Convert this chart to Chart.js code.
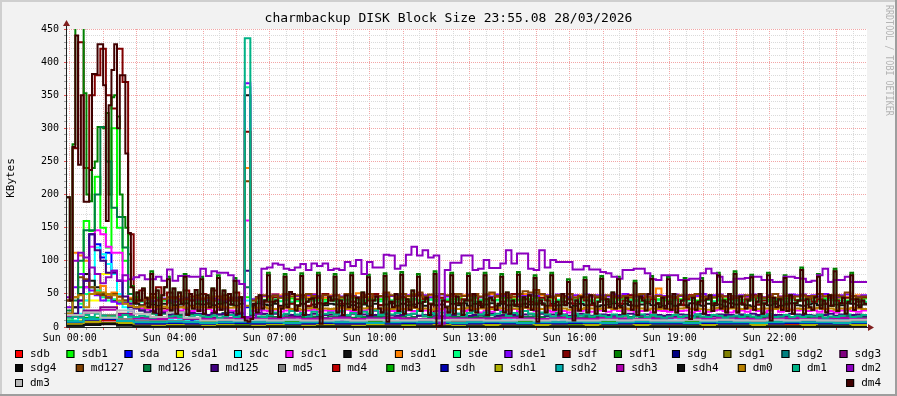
<!DOCTYPE html>
<html>
<head>
<meta charset="utf-8">
<title>charmbackup DISK Block Size</title>
<script src="https://cdn.jsdelivr.net/npm/chart.js@4.4.1/dist/chart.umd.min.js"></script>
<style>
    html, body { margin: 0; padding: 0; background: #f2f2f2; }
    canvas { display: block; }
</style>
</head>
<body>
<canvas id="graph" width="897" height="396"></canvas>
<script>
/**
 * charmbackup DISK Block Size - rrdtool style graph
 * time axis in minutes from Sun 00:00, graph starts 5 minutes earlier
 */

const T_START = -5;
const T_END = 1435;

// x labels (graph minutes -> label)
const X_LABEL_MINUTES = [0, 180, 360, 540, 720, 900, 1080, 1260];
const X_LABELS = ['Sun 00:00', 'Sun 04:00', 'Sun 07:00', 'Sun 10:00',
    'Sun 13:00', 'Sun 16:00', 'Sun 19:00', 'Sun 22:00'];
const Y_LABELS = [0, 50, 100, 150, 200, 250, 300, 350, 400, 450];

// 5 minute samples
const DM4 = [
    196, 40, 272, 440, 245, 350, 189, 189, 237, 382, 382, 427, 427, 365, 160, 335, 388, 427, 300, 380, 380, 262, 142, 60,
    36, 52, 40, 58, 44, 30, 80, 22, 55, 18, 48, 60, 72, 25, 58, 20, 52, 35, 76, 18, 50, 28, 56, 24,
    72, 20, 48, 30, 58, 22, 74, 26, 55, 18, 50, 34, 70, 20, 45, 15, 10, 8, 12, 35, 22, 48, 28, 40,
    78, 20, 38, 40, 15, 28, 76, 30, 53, 50, 25, 32, 77, 18, 38, 42, 43, 30, 78, 5, 35, 36, 45, 40,
    76, 22, 40, 18, 48, 30, 78, 26, 44, 20, 52, 36, 75, 18, 40, 46, 28, 22, 77, 8, 38, 30, 50, 24,
    79, 20, 42, 26, 55, 30, 76, 24, 38, 44, 18, 34, 80, 0, 2, 40, 30, 22, 78, 20, 46, 35, 18, 40,
    77, 25, 50, 22, 38, 30, 78, 18, 44, 40, 26, 35, 76, 22, 52, 20, 40, 32, 79, 15, 45, 30, 48, 26,
    74, 8, 40, 34, 22, 45, 78, 26, 38, 20, 50, 33, 68, 30, 10, 40, 25, 45, 71, 22, 48, 36, 20, 38,
    73, 24, 42, 30, 52, 28, 72, 30, 20, 44, 38, 26, 66, 18, 46, 40, 25, 50, 73, 22, 36, 30, 44, 28,
    72, 26, 50, 22, 34, 40, 70, 30, 12, 44, 26, 38, 70, 20, 42, 48, 24, 36, 78, 28, 40, 22, 50, 30,
    80, 22, 46, 34, 28, 40, 75, 26, 38, 50, 20, 35, 78, 10, 44, 30, 42, 26, 74, 24, 48, 20, 36, 40,
    86, 20, 42, 30, 26, 45, 76, 28, 40, 22, 48, 32, 84, 24, 36, 44, 20, 38, 78, 26, 42, 30, 40, 35
];
const SDF1 = [
    196, 40, 276, 460, 460, 460, 353, 200, 190, 240, 250, 302, 302, 300, 323, 200, 347, 350, 318, 200, 166, 150, 110, 62,
    36, 52, 40, 58, 44, 30, 84, 22, 55, 18, 48, 60, 76, 25, 58, 20, 52, 35, 80, 18, 50, 28, 56, 24,
    76, 20, 48, 30, 58, 22, 78, 26, 55, 18, 50, 34, 74, 20, 45, 15, 10, 8, 12, 35, 22, 48, 28, 40,
    82, 20, 38, 40, 15, 28, 80, 30, 53, 50, 25, 32, 81, 18, 38, 42, 43, 30, 82, 5, 35, 36, 45, 40,
    80, 22, 40, 18, 48, 30, 82, 26, 44, 20, 52, 36, 79, 18, 40, 46, 28, 22, 81, 8, 38, 30, 50, 24,
    83, 20, 42, 26, 55, 30, 80, 24, 38, 44, 18, 34, 84, 0, 2, 40, 30, 22, 82, 20, 46, 35, 18, 40,
    81, 25, 50, 22, 38, 30, 82, 18, 44, 40, 26, 35, 80, 22, 52, 20, 40, 32, 83, 15, 45, 30, 48, 26,
    78, 8, 40, 34, 22, 45, 82, 26, 38, 20, 50, 33, 72, 30, 10, 40, 25, 45, 75, 22, 48, 36, 20, 38,
    77, 24, 42, 30, 52, 28, 76, 30, 20, 44, 38, 26, 70, 18, 46, 40, 25, 50, 77, 22, 36, 30, 44, 28,
    76, 26, 50, 22, 34, 40, 74, 30, 12, 44, 26, 38, 74, 20, 42, 48, 24, 36, 82, 28, 40, 22, 50, 30,
    84, 22, 46, 34, 28, 40, 79, 26, 38, 50, 20, 35, 82, 10, 44, 30, 42, 26, 78, 24, 48, 20, 36, 40,
    90, 20, 42, 30, 26, 45, 80, 28, 40, 22, 48, 32, 88, 24, 36, 44, 20, 38, 82, 26, 42, 30, 40, 35
];

// 10 minute samples
const DM2 = [
    45, 100, 112, 105, 90, 80, 66, 75, 85, 70, 78, 72,
    75, 78, 72, 72, 76, 70, 87, 70, 77, 77, 76, 76,
    88, 77, 84, 82, 82, 78, 70, 65, 15, 12, 20, 88,
    90, 96, 94, 88, 86, 90, 95, 86, 96, 92, 96, 86,
    88, 86, 98, 92, 101, 80, 98, 90, 90, 109, 108, 88,
    93, 109, 121, 108, 116, 105, 108, 5, 86, 97, 97, 108,
    108, 86, 88, 101, 89, 89, 96, 116, 96, 111, 111, 88,
    86, 116, 90, 101, 98, 98, 98, 87, 87, 92, 87, 87,
    83, 81, 76, 73, 86, 86, 88, 88, 81, 72, 71, 78,
    78, 78, 71, 71, 73, 73, 81, 88, 81, 76, 68, 68,
    73, 73, 74, 76, 76, 71, 71, 68, 68, 76, 76, 74,
    73, 68, 70, 78, 88, 68, 71, 71, 76, 68, 68, 68
];
const MD127 = [
    40, 45, 75, 72, 60, 50, 48, 44, 50, 46, 40, 42,
    38, 40, 42, 44, 40, 42, 45, 43, 40, 42, 46, 44,
    42, 44, 40, 46, 42, 44, 40, 45, 220, 40, 44, 48,
    46, 48, 44, 50, 46, 48, 45, 50, 47, 44, 48, 46,
    48, 45, 50, 46, 44, 48, 50, 46, 47, 52, 48, 45,
    50, 47, 48, 52, 46, 49, 45, 50, 48, 46, 50, 47,
    48, 50, 46, 49, 52, 47, 50, 48, 46, 50, 54, 52,
    56, 50, 47, 45, 48, 46, 50, 44, 47, 45, 48, 46,
    45, 48, 46, 44, 47, 45, 48, 50, 46, 44, 47, 45,
    46, 44, 48, 45, 47, 50, 46, 44, 45, 48, 46, 47,
    44, 46, 48, 45, 47, 44, 46, 50, 45, 47, 44, 46,
    48, 45, 47, 50, 46, 44, 48, 46, 52, 47, 45, 46
];
const SDD1 = [
    30, 112, 108, 100, 60, 55, 62, 48, 52, 45, 40, 44,
    42, 40, 44, 46, 42, 40, 44, 42, 46, 43, 41, 45,
    44, 42, 46, 43, 45, 40, 44, 42, 240, 40, 43, 46,
    45, 50, 48, 44, 49, 46, 48, 45, 50, 47, 44, 48,
    48, 44, 49, 46, 51, 47, 45, 49, 46, 50, 47, 44,
    49, 46, 50, 47, 45, 48, 46, 44, 47, 49, 46, 48,
    47, 49, 45, 48, 50, 46, 49, 47, 45, 48, 50, 47,
    52, 48, 46, 44, 47, 45, 49, 46, 48, 44, 47, 45,
    44, 47, 45, 48, 46, 44, 47, 49, 45, 47, 58, 44,
    46, 44, 47, 45, 48, 46, 44, 47, 45, 48, 46, 44,
    45, 47, 44, 46, 48, 45, 47, 44, 46, 48, 45, 47,
    46, 44, 47, 45, 48, 46, 44, 47, 45, 46, 48, 45
];
const DM0 = [
    20, 45, 48, 30, 50, 52, 52, 50, 48, 40, 35, 32,
    30, 31, 29, 30, 30, 31, 29, 30, 30, 29, 31, 30,
    30, 29, 30, 31, 30, 29, 30, 30, 32, 28, 29, 30,
    28, 27, 28, 29, 27, 28, 26, 28, 29, 27, 28, 27,
    28, 29, 27, 28, 26, 28, 29, 27, 28, 28, 27, 29,
    27, 28, 29, 27, 28, 26, 28, 27, 29, 28, 27, 28,
    29, 27, 28, 28, 27, 29, 28, 26, 28, 27, 29, 28,
    28, 27, 29, 28, 27, 28, 26, 28, 27, 29, 28, 27,
    28, 29, 27, 28, 28, 27, 29, 28, 26, 28, 27, 28,
    27, 28, 28, 29, 27, 28, 27, 26, 28, 29, 27, 28,
    28, 27, 29, 28, 27, 28, 28, 27, 29, 28, 26, 28,
    27, 28, 28, 29, 27, 28, 26, 28, 27, 29, 28, 27
];
const DM1 = [
    14, 16, 14, 18, 15, 20, 17, 14, 16, 15, 18, 16,
    15, 17, 16, 14, 18, 15, 16, 17, 15, 14, 16, 18,
    16, 15, 17, 14, 16, 18, 15, 17, 436, 20, 16, 15,
    18, 22, 17, 20, 24, 19, 21, 16, 23, 18, 20, 22,
    19, 24, 18, 21, 17, 23, 20, 25, 18, 22, 19, 21,
    23, 18, 20, 24, 17, 21, 19, 22, 18, 25, 20, 17,
    21, 24, 19, 22, 18, 20, 23, 17, 21, 19, 24, 20,
    18, 22, 19, 16, 21, 18, 15, 20, 17, 19, 16, 18,
    17, 15, 19, 16, 18, 14, 17, 19, 15, 18, 16, 14,
    16, 18, 15, 17, 14, 19, 16, 15, 18, 17, 14, 16,
    17, 15, 18, 16, 14, 17, 19, 15, 16, 18, 15, 17,
    15, 17, 16, 18, 14, 16, 15, 17, 19, 15, 16, 18
];
const SDC1 = [
    20, 30, 40, 60, 121, 146, 140, 121, 112, 112, 70, 36,
    30, 28, 26, 25, 27, 24, 26, 28, 25, 27, 24, 26,
    25, 27, 24, 26, 28, 25, 24, 22, 161, 24, 26, 25,
    24, 26, 23, 25, 27, 24, 22, 25, 26, 23, 25, 24,
    25, 23, 26, 24, 22, 25, 27, 24, 23, 26, 24, 25,
    23, 25, 24, 27, 25, 22, 24, 26, 23, 25, 27, 24,
    26, 24, 22, 25, 23, 26, 24, 25, 27, 23, 24, 26,
    24, 27, 25, 23, 26, 24, 22, 25, 24, 26, 23, 25,
    25, 23, 26, 24, 27, 25, 23, 24, 26, 22, 25, 24,
    23, 26, 24, 25, 22, 24, 27, 23, 25, 26, 24, 22,
    24, 25, 23, 26, 24, 22, 25, 27, 23, 24, 26, 25,
    26, 24, 25, 23, 27, 24, 22, 25, 26, 24, 23, 25
];
const MD125 = [
    15, 20, 40, 70, 140, 116, 100, 82, 82, 70, 46, 30,
    28, 25, 22, 24, 20, 22, 18, 20, 22, 19, 21, 20,
    20, 18, 21, 19, 20, 22, 18, 20, 85, 19, 21, 20,
    18, 20, 17, 19, 18, 16, 19, 18, 20, 17, 18, 19,
    19, 17, 18, 20, 18, 19, 17, 18, 19, 20, 18, 17,
    18, 19, 20, 17, 18, 19, 18, 16, 19, 18, 20, 18,
    17, 18, 19, 18, 20, 17, 18, 19, 18, 17, 19, 20,
    18, 20, 17, 19, 18, 19, 17, 18, 20, 18, 17, 19,
    19, 18, 17, 18, 19, 20, 18, 17, 19, 18, 18, 17,
    18, 17, 19, 18, 17, 19, 20, 18, 17, 19, 18, 18,
    17, 19, 18, 20, 18, 17, 19, 18, 18, 17, 20, 19,
    18, 18, 17, 19, 18, 20, 17, 19, 18, 18, 19, 17
];
const SDE1 = [
    30, 60, 80, 70, 55, 48, 40, 45, 38, 35, 36, 34,
    38, 40, 42, 39, 41, 43, 40, 38, 42, 44, 40, 41,
    42, 40, 43, 41, 39, 42, 44, 40, 368, 42, 45, 47,
    47, 49, 46, 48, 50, 47, 45, 48, 49, 46, 48, 47,
    48, 46, 49, 47, 45, 48, 50, 47, 46, 49, 47, 48,
    46, 48, 47, 50, 48, 45, 47, 49, 46, 48, 50, 47,
    49, 47, 45, 48, 46, 49, 47, 48, 50, 46, 47, 49,
    47, 50, 48, 46, 49, 47, 45, 48, 47, 49, 46, 48,
    48, 46, 49, 47, 50, 48, 46, 47, 49, 45, 48, 47,
    46, 49, 47, 48, 45, 47, 50, 46, 48, 49, 47, 45,
    47, 48, 46, 49, 47, 45, 48, 50, 46, 47, 49, 48,
    49, 47, 48, 46, 50, 47, 45, 48, 49, 47, 46, 48
];
const SDE = [
    10, 20, 35, 50, 60, 55, 45, 40, 42, 38, 40, 39,
    40, 38, 41, 39, 42, 40, 38, 41, 39, 40, 42, 38,
    39, 41, 40, 38, 42, 39, 40, 41, 362, 40, 38, 41,
    40, 42, 39, 41, 38, 40, 42, 39, 41, 40, 38, 41,
    39, 41, 40, 38, 42, 39, 41, 40, 39, 42, 40, 38,
    41, 39, 42, 40, 38, 41, 39, 40, 42, 38, 41, 40,
    40, 38, 41, 39, 42, 40, 38, 41, 39, 40, 42, 39,
    39, 42, 40, 38, 41, 39, 42, 40, 38, 41, 39, 40,
    41, 40, 38, 42, 39, 41, 40, 38, 41, 39, 40, 42,
    38, 41, 39, 40, 42, 38, 40, 41, 39, 42, 38, 40,
    40, 39, 42, 41, 38, 40, 39, 42, 40, 38, 41, 39,
    42, 38, 40, 39, 41, 42, 38, 40, 39, 41, 40, 38
];
const SDD = [
    20, 30, 50, 80, 70, 60, 50, 45, 40, 38, 36, 35,
    35, 33, 36, 34, 32, 35, 37, 33, 34, 36, 32, 35,
    34, 36, 33, 35, 37, 34, 32, 35, 350, 33, 36, 34,
    33, 35, 32, 34, 36, 33, 35, 31, 34, 36, 33, 35,
    34, 32, 35, 33, 36, 34, 31, 35, 33, 34, 36, 32,
    35, 33, 34, 36, 32, 35, 33, 34, 31, 35, 33, 36,
    32, 35, 33, 34, 36, 32, 35, 33, 34, 31, 35, 34,
    34, 36, 32, 35, 33, 34, 36, 32, 35, 33, 34, 31,
    33, 34, 36, 32, 35, 33, 31, 34, 36, 33, 35, 32,
    35, 32, 34, 33, 36, 34, 32, 35, 33, 34, 31, 36,
    34, 35, 33, 31, 34, 36, 33, 35, 32, 34, 36, 33,
    32, 34, 36, 33, 35, 32, 34, 33, 36, 35, 33, 34
];
const SDF = [
    40, 270, 430, 240, 350, 380, 420, 350, 330, 420, 370, 140,
    40, 55, 30, 50, 60, 28, 52, 45, 30, 55, 40, 48,
    50, 35, 55, 30, 48, 40, 52, 20, 295, 30, 45, 38,
    38, 45, 30, 50, 35, 42, 48, 32, 44, 36, 50, 40,
    42, 35, 48, 38, 30, 45, 40, 50, 33, 46, 38, 42,
    45, 38, 30, 48, 42, 35, 10, 44, 38, 50, 36, 42,
    40, 48, 35, 42, 30, 46, 38, 44, 50, 34, 42, 38,
    36, 44, 40, 32, 48, 38, 42, 35, 46, 40, 33, 45,
    42, 38, 46, 35, 40, 48, 32, 44, 38, 42, 36, 45,
    38, 45, 33, 42, 48, 36, 40, 44, 35, 46, 38, 42,
    44, 36, 42, 48, 34, 40, 45, 38, 42, 35, 46, 40,
    40, 46, 38, 42, 35, 48, 40, 36, 44, 42, 38, 45
];
const SDB1 = [
    20, 30, 60, 160, 145, 227, 150, 120, 300, 150, 100, 60,
    45, 40, 42, 38, 44, 40, 41, 43, 39, 42, 40, 44,
    41, 43, 40, 42, 39, 44, 40, 42, 45, 41, 43, 40,
    42, 40, 44, 41, 43, 39, 42, 44, 40, 43, 41, 42,
    40, 43, 41, 44, 42, 40, 43, 41, 42, 44, 40, 43,
    43, 41, 42, 40, 44, 42, 41, 43, 40, 42, 44, 41,
    41, 44, 40, 42, 43, 41, 44, 40, 42, 41, 43, 42,
    44, 42, 41, 43, 40, 44, 42, 41, 43, 42, 40, 44,
    42, 40, 43, 41, 44, 42, 40, 43, 41, 44, 42, 40,
    40, 43, 42, 44, 41, 40, 43, 42, 44, 40, 42, 43,
    43, 41, 40, 42, 44, 43, 41, 40, 42, 43, 44, 41,
    41, 42, 44, 40, 43, 41, 42, 44, 40, 42, 41, 43
];
const SDA = [
    10, 15, 30, 60, 140, 125, 105, 112, 85, 70, 40, 25,
    15, 12, 10, 8, 9, 8, 10, 9, 8, 7, 9, 8,
    8, 9, 7, 8, 9, 8, 7, 9, 30, 8, 7, 9,
    8, 7, 9, 8, 7, 8, 9, 7, 8, 9, 8, 7,
    7, 9, 8, 7, 8, 9, 7, 8, 9, 7, 8, 8,
    9, 8, 7, 9, 8, 7, 8, 9, 7, 8, 9, 8,
    8, 7, 8, 9, 7, 8, 9, 8, 7, 9, 8, 7,
    7, 8, 9, 8, 7, 9, 8, 7, 8, 9, 7, 8,
    9, 7, 8, 7, 9, 8, 7, 8, 9, 8, 7, 9,
    8, 9, 7, 8, 8, 7, 9, 8, 7, 8, 9, 7,
    7, 8, 8, 9, 7, 8, 8, 9, 8, 7, 8, 9,
    8, 7, 9, 8, 9, 7, 8, 8, 7, 9, 8, 8
];
const SDC = [
    8, 10, 20, 40, 60, 120, 110, 95, 80, 50, 30, 15,
    12, 11, 10, 11, 10, 12, 11, 10, 11, 10, 12, 11,
    10, 11, 12, 10, 11, 10, 11, 12, 40, 11, 10, 11,
    11, 10, 12, 11, 10, 11, 12, 10, 11, 10, 11, 12,
    10, 12, 11, 10, 11, 12, 10, 11, 10, 12, 11, 10,
    12, 11, 10, 12, 11, 10, 11, 12, 10, 11, 12, 11,
    11, 10, 11, 12, 10, 11, 12, 11, 10, 11, 10, 12,
    10, 12, 11, 10, 12, 11, 10, 11, 12, 10, 11, 11,
    11, 11, 10, 12, 11, 10, 12, 11, 10, 12, 11, 10,
    12, 10, 11, 11, 10, 12, 11, 10, 11, 11, 12, 10,
    11, 12, 10, 11, 12, 10, 11, 11, 12, 10, 11, 12,
    10, 11, 12, 10, 11, 11, 10, 12, 11, 10, 12, 11
];
const MD126 = [
    25, 40, 100, 146, 146, 200, 302, 250, 180, 166, 120, 50,
    30, 25, 22, 20, 18, 20, 19, 21, 18, 20, 19, 18,
    19, 18, 20, 19, 21, 18, 19, 20, 60, 18, 20, 19,
    16, 15, 17, 16, 14, 16, 15, 17, 16, 15, 14, 16,
    15, 17, 16, 14, 16, 15, 17, 16, 15, 16, 14, 17,
    16, 14, 15, 17, 16, 15, 14, 16, 17, 15, 16, 15,
    15, 16, 17, 15, 14, 16, 15, 17, 16, 14, 15, 16,
    17, 15, 16, 14, 16, 17, 15, 16, 14, 16, 15, 17,
    16, 15, 14, 16, 17, 15, 16, 14, 15, 17, 16, 15,
    14, 16, 15, 17, 15, 16, 14, 16, 17, 15, 16, 14,
    15, 17, 16, 15, 16, 14, 17, 15, 16, 16, 14, 15,
    16, 15, 17, 16, 14, 15, 16, 17, 15, 14, 16, 15
];

// 30 minute samples
const SDB = [
    5, 8, 12, 6, 4, 5, 4, 3, 5, 4, 3, 4, 4, 3, 5, 4, 3, 4, 5, 3, 4, 4, 3, 5,
    4, 3, 4, 5, 3, 4, 4, 3, 5, 4, 3, 4, 3, 4, 5, 4, 3, 4, 3, 5, 4, 3, 4, 4
];
const SDA1 = [
    10, 40, 80, 20, 3, 2, 3, 2, 3, 2, 2, 3, 2, 3, 2, 2, 3, 2, 3, 2, 2, 3, 2, 3,
    2, 2, 3, 2, 3, 2, 2, 3, 2, 3, 2, 2, 3, 2, 2, 3, 2, 3, 2, 2, 3, 2, 3, 2
];
const SDG = [
    8, 12, 15, 9, 6, 7, 6, 5, 6, 7, 6, 5, 6, 5, 6, 7, 5, 6, 6, 5, 7, 6, 5, 6,
    6, 7, 5, 6, 6, 5, 7, 6, 5, 6, 6, 7, 5, 6, 6, 7, 5, 6, 5, 6, 7, 6, 5, 6
];
const SDG1 = [
    3, 5, 6, 3, 2, 1, 2, 1, 2, 1, 1, 2, 1, 2, 1, 1, 2, 1, 2, 1, 1, 2, 1, 2,
    1, 1, 2, 1, 2, 1, 1, 2, 1, 2, 1, 1, 2, 1, 1, 2, 1, 2, 1, 1, 2, 1, 2, 1
];
const SDG2 = [
    6, 10, 12, 7, 5, 6, 5, 4, 5, 6, 5, 4, 5, 4, 5, 6, 4, 5, 5, 4, 6, 5, 4, 5,
    5, 6, 4, 5, 5, 4, 6, 5, 4, 5, 5, 6, 4, 5, 5, 6, 4, 5, 4, 5, 6, 5, 4, 5
];
const SDG3 = [
    18, 25, 30, 20, 14, 13, 15, 12, 14, 13, 15, 14, 13, 15, 14, 12, 14, 13, 15, 14, 13, 12, 14, 15,
    14, 13, 15, 14, 12, 14, 13, 15, 14, 13, 12, 14, 15, 14, 13, 14, 15, 12, 14, 13, 15, 14, 13, 14
];
const SDG4 = [
    2, 4, 5, 3, 1, 1, 0, 1, 1, 0, 1, 1, 1, 0, 1, 1, 0, 1, 1, 0, 1, 1, 0, 1,
    1, 1, 0, 1, 1, 0, 1, 1, 0, 1, 1, 0, 1, 0, 1, 1, 0, 1, 1, 0, 1, 1, 0, 1
];
const MD5 = [
    15, 22, 18, 12, 9, 10, 9, 8, 9, 10, 9, 8, 9, 8, 9, 10, 8, 9, 9, 8, 10, 9, 8, 9,
    9, 10, 8, 9, 9, 8, 10, 9, 8, 9, 9, 10, 8, 9, 9, 10, 8, 9, 8, 9, 10, 9, 8, 9
];
const MD4 = [
    6, 9, 10, 6, 4, 4, 3, 4, 4, 3, 4, 4, 3, 4, 4, 3, 4, 3, 4, 4, 3, 4, 4, 3,
    4, 3, 4, 4, 3, 4, 3, 4, 4, 3, 4, 4, 3, 4, 3, 4, 4, 3, 4, 4, 3, 4, 3, 4
];
const MD3 = [
    8, 14, 16, 9, 6, 7, 6, 6, 7, 6, 5, 6, 6, 7, 6, 5, 6, 6, 7, 6, 5, 6, 7, 6,
    6, 5, 6, 7, 6, 6, 5, 6, 7, 6, 6, 5, 6, 7, 6, 6, 5, 6, 7, 6, 6, 5, 6, 6
];
const SDH = [
    7, 10, 12, 8, 5, 5, 6, 5, 4, 5, 6, 5, 5, 4, 5, 6, 5, 5, 4, 5, 6, 5, 5, 4,
    5, 6, 5, 4, 5, 5, 6, 5, 4, 5, 6, 5, 5, 4, 6, 5, 5, 4, 5, 6, 5, 5, 4, 5
];
const SDH1 = [
    4, 8, 15, 6, 2, 2, 3, 2, 2, 3, 2, 2, 3, 2, 2, 3, 2, 2, 3, 2, 2, 2, 3, 2,
    2, 3, 2, 2, 3, 2, 2, 3, 2, 2, 3, 2, 2, 2, 3, 2, 2, 3, 2, 2, 3, 2, 2, 3
];
const SDH2 = [
    8, 12, 14, 9, 7, 7, 8, 7, 6, 7, 8, 7, 7, 6, 7, 8, 7, 7, 6, 7, 8, 7, 7, 6,
    7, 8, 7, 6, 7, 7, 8, 7, 6, 7, 8, 7, 7, 6, 8, 7, 7, 6, 7, 8, 7, 7, 6, 7
];
const SDH3 = [
    16, 22, 26, 18, 13, 12, 14, 13, 12, 14, 13, 12, 13, 14, 12, 13, 14, 12, 13, 14, 13, 12, 14, 13,
    12, 13, 14, 13, 12, 14, 13, 12, 14, 13, 12, 13, 14, 12, 13, 14, 13, 12, 13, 14, 12, 13, 14, 13
];
const SDH4 = [
    2, 3, 4, 2, 1, 0, 1, 1, 0, 1, 1, 0, 1, 1, 0, 1, 1, 0, 1, 1, 0, 1, 1, 0,
    1, 0, 1, 1, 0, 1, 1, 0, 1, 1, 0, 1, 1, 1, 0, 1, 1, 0, 1, 1, 0, 1, 1, 0
];
const DM3 = [
    18, 22, 14, 25, 20, 15, 22, 14, 10, 11, 10, 11, 10, 11, 10, 10, 11, 10, 11, 10, 10, 11, 10, 11,
    11, 10, 10, 11, 10, 11, 10, 10, 11, 10, 11, 10, 10, 11, 10, 11, 10, 10, 11, 10, 11, 10, 10, 11
];

// legend order = draw order (later ones on top), [name, values, step minutes]
const SERIES = [
    ['sdb', SDB, 30], ['sdb1', SDB1, 10], ['sda', SDA, 10], ['sda1', SDA1, 30],
    ['sdc', SDC, 10], ['sdc1', SDC1, 10], ['sdd', SDD, 10], ['sdd1', SDD1, 10],
    ['sde', SDE, 10], ['sde1', SDE1, 10], ['sdf', SDF, 10], ['sdf1', SDF1, 5],
    ['sdg', SDG, 30], ['sdg1', SDG1, 30], ['sdg2', SDG2, 30], ['sdg3', SDG3, 30],
    ['sdg4', SDG4, 30], ['md127', MD127, 10], ['md126', MD126, 10], ['md125', MD125, 10],
    ['md5', MD5, 30], ['md4', MD4, 30], ['md3', MD3, 30], ['sdh', SDH, 30],
    ['sdh1', SDH1, 30], ['sdh2', SDH2, 30], ['sdh3', SDH3, 30], ['sdh4', SDH4, 30],
    ['dm0', DM0, 10], ['dm1', DM1, 10], ['dm2', DM2, 10], ['dm3', DM3, 30],
    ['dm4', DM4, 5]
];

const COLORS = {
    sdb: '#ff0000', sdb1: '#00ff00', sda: '#0000ff', sda1: '#ffff00',
    sdc: '#00ffff', sdc1: '#ff00ff', sdd: '#111111', sdd1: '#ff8000',
    sde: '#00ff80', sde1: '#8000ff', sdf: '#800000', sdf1: '#008000',
    sdg: '#000080', sdg1: '#808000', sdg2: '#008080', sdg3: '#800080',
    sdg4: '#080808', md127: '#804000', md126: '#008040', md125: '#400080',
    md5: '#808080', md4: '#c00000', md3: '#00b000', sdh: '#0000b0',
    sdh1: '#b0b000', sdh2: '#00b0b0', sdh3: '#b000b0', sdh4: '#101010',
    dm0: '#b88000', dm1: '#00b386', dm2: '#8c00c0', dm3: '#b8b8b8',
    dm4: '#400000'
};

const LEGEND_ROWS = [16, 15, 2];
const FONT = '"DejaVu Sans Mono", monospace';
const MAJOR_GRID = '#f2a6a6';
const MINOR_GRID = '#dadada';

function toPoints(values, step) {
    const pts = values.map((v, k) => ({ x: T_START + k * step, y: v }));
    // close the last step at the graph end
    pts.push({ x: T_END, y: values[values.length - 1] });
    return pts;
}

function xLabel(value) {
    const idx = X_LABEL_MINUTES.indexOf(value);
    return idx >= 0 ? X_LABELS[idx] : '';
}

function drawLegend(ctx) {
    const left = 15, right = 881, y0 = 353.5, dy = 14.6;
    ctx.font = '11px ' + FONT;
    ctx.textBaseline = 'middle';
    ctx.textAlign = 'left';
    let start = 0;
    LEGEND_ROWS.forEach((count, r) => {
        const names = SERIES.slice(start, start + count).map(s => s[0]);
        start += count;
        const y = y0 + r * dy;
        const widths = names.map(n => 15 + ctx.measureText(n).width);
        const total = widths.reduce((a, b) => a + b, 0);
        const gap = names.length > 1 ? (right - left - total) / (names.length - 1) : 0;
        let x = left;
        names.forEach((name, i) => {
            ctx.fillStyle = COLORS[name];
            ctx.fillRect(x, Math.round(y) - 4, 8, 8);
            ctx.strokeStyle = '#000';
            ctx.lineWidth = 1;
            ctx.strokeRect(x + 0.5, Math.round(y) - 3.5, 7, 7);
            ctx.fillStyle = '#000';
            ctx.fillText(name, x + 15, y + 0.5);
            x += widths[i] + gap;
        });
    });
}

const rrdDecor = {
    id: 'rrdDecor',
    beforeDraw(chart) {
        const { ctx, chartArea: a, width: W, height: H } = chart;
        ctx.save();
        ctx.fillStyle = '#f2f2f2';
        ctx.fillRect(0, 0, W, H);
        // shaded frame
        ctx.fillStyle = '#cfcfcf';
        ctx.fillRect(0, 0, W, 2);
        ctx.fillRect(0, 0, 2, H);
        ctx.fillStyle = '#9e9e9e';
        ctx.fillRect(0, H - 2, W, 2);
        ctx.fillRect(W - 2, 0, 2, H);
        // canvas
        ctx.fillStyle = '#ffffff';
        ctx.fillRect(a.left, a.top, a.right - a.left, a.bottom - a.top);
        ctx.restore();
    },
    afterDraw(chart) {
        const { ctx, chartArea: a, width: W } = chart;
        ctx.save();

        // axes
        ctx.strokeStyle = '#1f1f1f';
        ctx.lineWidth = 1;
        ctx.beginPath();
        ctx.moveTo(a.left - 0.5, a.bottom + 0.5);
        ctx.lineTo(a.right + 3, a.bottom + 0.5);
        ctx.moveTo(a.left - 0.5, a.bottom + 0.5);
        ctx.lineTo(a.left - 0.5, a.top - 6);
        ctx.stroke();

        // arrows
        ctx.fillStyle = '#801f1f';
        ctx.beginPath();
        ctx.moveTo(a.right + 1, a.bottom - 3);
        ctx.lineTo(a.right + 7, a.bottom + 0.5);
        ctx.lineTo(a.right + 1, a.bottom + 4);
        ctx.closePath();
        ctx.fill();
        ctx.beginPath();
        ctx.moveTo(a.left - 4, a.top - 3);
        ctx.lineTo(a.left - 0.5, a.top - 9);
        ctx.lineTo(a.left + 3, a.top - 3);
        ctx.closePath();
        ctx.fill();

        // title
        ctx.fillStyle = '#000';
        ctx.font = '13px ' + FONT;
        ctx.textAlign = 'center';
        ctx.textBaseline = 'middle';
        ctx.fillText('charmbackup DISK Block Size 23:55.08 28/03/2026', W / 2, 19);

        // vertical axis label
        ctx.save();
        ctx.translate(11, (a.top + a.bottom) / 2);
        ctx.rotate(-Math.PI / 2);
        ctx.font = '11px ' + FONT;
        ctx.fillText('KBytes', 0, 0);
        ctx.restore();

        // rrdtool watermark
        ctx.save();
        ctx.translate(888.5, 5);
        ctx.rotate(Math.PI / 2);
        ctx.scale(0.76, 1);
        ctx.font = '11px ' + FONT;
        ctx.fillStyle = '#b4b4b4';
        ctx.textAlign = 'left';
        ctx.fillText('RRDTOOL / TOBI OETIKER', 0, 0);
        ctx.restore();

        drawLegend(ctx);
        ctx.restore();
    }
};

const datasets = SERIES.map(([name, values, step], idx) => ({
    label: name,
    data: toPoints(values, step),
    borderColor: COLORS[name],
    backgroundColor: COLORS[name],
    borderWidth: 2,
    pointRadius: 0,
    stepped: true,
    fill: false,
    order: SERIES.length - idx
}));

Chart.defaults.font.family = FONT;

new Chart(document.getElementById('graph'), {
    type: 'line',
    data: { datasets },
    options: {
        responsive: false,
        animation: false,
        devicePixelRatio: 1,
        events: [],
        layout: { padding: { left: 0, right: 30, top: 29, bottom: 0 } },
        plugins: {
            legend: { display: false },
            tooltip: { enabled: false },
            title: { display: false }
        },
        scales: {
            x: {
                type: 'linear',
                min: T_START,
                max: T_END,
                afterFit: s => { s.height = 69; },
                afterBuildTicks: s => {
                    const ticks = [];
                    for (let v = 0; v < T_END; v += 30) ticks.push({ value: v });
                    s.ticks = ticks;
                },
                grid: {
                    color: c => (c.tick && c.tick.value % 60 === 0) ? MAJOR_GRID : MINOR_GRID,
                    tickColor: c => (c.tick && c.tick.value % 60 === 0) ? '#de5050' : '#a0a0a0',
                    lineWidth: 1,
                    drawTicks: true,
                    tickLength: 3
                },
                border: { display: false, dash: [1, 1] },
                ticks: {
                    autoSkip: false,
                    maxRotation: 0,
                    padding: 2,
                    color: '#000',
                    font: { size: 10 },
                    callback: v => xLabel(v)
                }
            },
            y: {
                type: 'linear',
                min: 0,
                max: 450,
                afterFit: s => { s.width = 67; },
                afterBuildTicks: s => {
                    const ticks = [];
                    for (let v = 0; v <= 450; v += 10) ticks.push({ value: v });
                    s.ticks = ticks;
                },
                grid: {
                    color: c => (c.tick && c.tick.value % 50 === 0) ? MAJOR_GRID : MINOR_GRID,
                    tickColor: c => (c.tick && c.tick.value % 50 === 0) ? '#de5050' : '#a0a0a0',
                    lineWidth: 1,
                    drawTicks: true,
                    tickLength: 3
                },
                border: { display: false, dash: [1, 1] },
                ticks: {
                    autoSkip: false,
                    padding: 5,
                    color: '#000',
                    font: { size: 10 },
                    callback: v => Y_LABELS.includes(v) ? String(v) : ''
                }
            }
        }
    },
    plugins: [rrdDecor]
});
</script>
</body>
</html>
